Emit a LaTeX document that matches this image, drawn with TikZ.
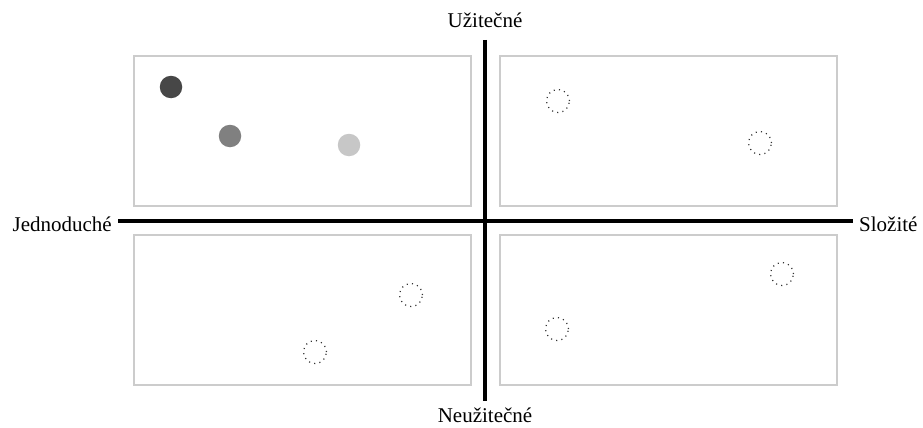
\documentclass[tikz,border=0pt]{standalone}
\usepackage{fontspec}
\setmainfont{Liberation Serif}
\usepackage{tikz}
\usetikzlibrary{positioning}

\begin{document}
\begin{tikzpicture}[
    x=1pt, y=-1pt,
    quad/.style={draw=black!20, line width=1.3pt, minimum width=337pt,
    minimum height=150pt, inner sep=0pt},
    dot/.style={circle, minimum size=22.5pt, inner sep=0pt},
    ghost/.style={circle, draw=black!80, line width=1.2pt,
    dash pattern=on 1.1pt off 4.2pt, minimum size=23pt, inner sep=0pt},
    axis/.style={line width=3.2pt},
    lbl/.style={font=\fontsize{21}{25}\selectfont, inner sep=0pt}
]
\useasboundingbox (0,0) rectangle (923,428);
\node[quad] (ul) at (302.5,131) {};
\node[quad] (ur) at (668.5,131) {};
\node[quad] (ll) at (302.5,310) {};
\node[quad] (lr) at (668.5,310) {};
\coordinate (west) at (118,221);
\coordinate (east) at (853,221);
\coordinate (north) at (485,40);
\coordinate (south) at (485,401);
\draw[axis] (west) -- (east);
\draw[axis] (north) -- (south);
\node[lbl, left=6pt of west, yshift=-3pt] (simple) {Jednoduché};
\node[lbl, right=6pt of east, yshift=-3pt] (complex) {Složité};
\node[lbl, above=12pt of north] (useful) {Užitečné};
\node[lbl, below=7pt of south] (useless) {Neužitečné};
% filled points
\node[dot, fill=black!72] (p1) at (171,87) {};
\node[dot, fill=black!50] (p2) at (230,136) {};
\node[dot, fill=black!22] (p3) at (349,145) {};
% empty points
\node[ghost] (q1) at (558,101) {};
\node[ghost] (q2) at (760,143) {};
\node[ghost] (q3) at (411,295) {};
\node[ghost] (q4) at (315,352) {};
\node[ghost] (q5) at (557,329) {};
\node[ghost] (q6) at (782,274) {};
\end{tikzpicture}
\end{document}
